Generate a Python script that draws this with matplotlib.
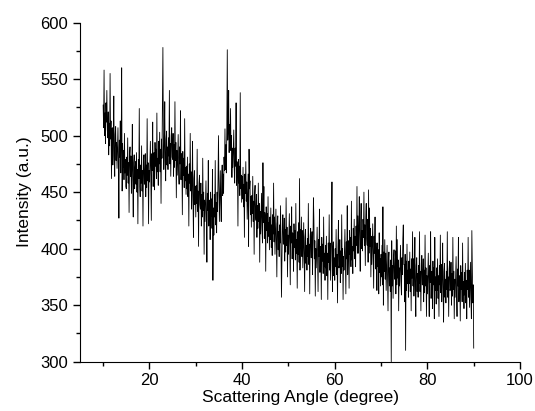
import numpy as np
import matplotlib
matplotlib.use("Agg")
import matplotlib.pyplot as plt
from matplotlib.ticker import MultipleLocator

plt.rcParams['font.family'] = ['Liberation Sans', 'DejaVu Sans']

# scattering angle, 10 to 90 degree in 0.1 steps
angle_start = 10.0
angle_step = 0.1

# intensity, one row per degree (10 values each)
intensity = [
    527, 507, 558, 500, 520, 493, 529, 512, 540, 505,   # 10
    498, 521, 483, 511, 491, 555, 497, 513, 462, 506,
    507, 474, 496, 535, 482, 464, 501, 508, 478, 494,
    471, 489, 507, 475, 427, 496, 481, 513, 467, 490,
    560, 451, 493, 472, 487, 461, 502, 467, 479, 455,
    453, 481, 465, 498, 458, 476, 432, 483, 490, 464,   # 15
    482, 449, 471, 510, 457, 428, 476, 483, 453, 469,
    477, 457, 485, 450, 470, 422, 479, 462, 524, 455,
    446, 474, 458, 491, 451, 469, 420, 476, 483, 457,
    461, 484, 446, 474, 454, 515, 460, 476, 422, 469,
    459, 477, 495, 463, 425, 484, 469, 512, 455, 478,   # 20
    485, 452, 494, 473, 488, 462, 520, 468, 480, 456,
    495, 475, 503, 468, 488, 440, 497, 480, 525, 578,
    503, 470, 492, 530, 478, 460, 497, 504, 474, 490,
    470, 498, 482, 540, 475, 493, 464, 500, 507, 481,
    479, 502, 464, 492, 472, 530, 478, 494, 445, 487,   # 25
    465, 483, 501, 469, 457, 490, 475, 522, 461, 484,
    477, 430, 486, 465, 480, 454, 515, 460, 472, 448,
    473, 453, 481, 446, 466, 420, 475, 458, 502, 451,
    468, 435, 457, 495, 443, 410, 462, 469, 439, 455,
    428, 456, 440, 488, 433, 451, 402, 458, 465, 439,   # 30
    435, 458, 420, 448, 428, 480, 434, 450, 395, 443,
    424, 442, 460, 428, 388, 449, 434, 478, 420, 443,
    441, 408, 450, 429, 444, 418, 470, 372, 436, 412,
    448, 428, 478, 421, 441, 414, 450, 433, 461, 500,
    455, 424, 449, 469, 440, 424, 464, 474, 447, 466,   # 35
    449, 481, 469, 506, 470, 492, 467, 507, 576, 496,
    505, 540, 485, 510, 487, 524, 487, 500, 463, 489,
    472, 488, 505, 471, 458, 489, 473, 529, 456, 477,
    470, 420, 479, 458, 473, 447, 538, 453, 465, 441,
    464, 444, 472, 437, 457, 410, 466, 449, 477, 442,   # 40
    459, 426, 448, 466, 402, 488, 453, 460, 430, 446,
    419, 447, 431, 464, 424, 442, 395, 449, 456, 430,
    425, 448, 410, 438, 418, 458, 424, 440, 388, 433,
    413, 431, 449, 417, 405, 476, 423, 455, 409, 432,
    428, 380, 437, 416, 431, 405, 446, 411, 423, 399,   # 45
    428, 408, 436, 401, 421, 394, 430, 413, 458, 406,
    428, 395, 417, 435, 403, 375, 422, 429, 399, 415,
    393, 421, 405, 438, 398, 357, 387, 423, 430, 404,
    404, 427, 389, 417, 397, 445, 403, 419, 375, 412,
    395, 413, 431, 399, 368, 420, 405, 437, 391, 414,   # 50
    413, 380, 422, 401, 416, 390, 440, 396, 408, 365,
    415, 395, 423, 388, 462, 381, 417, 400, 428, 393,
    416, 383, 405, 423, 391, 362, 410, 417, 387, 403,
    381, 409, 393, 440, 386, 404, 360, 411, 418, 392,
    392, 415, 377, 405, 445, 425, 391, 407, 358, 400,   # 55
    383, 401, 419, 387, 362, 408, 393, 435, 379, 402,
    401, 355, 410, 389, 404, 378, 428, 384, 396, 372,
    403, 383, 411, 376, 396, 355, 405, 388, 430, 381,
    405, 372, 394, 412, 459, 362, 399, 406, 376, 392,
    372, 400, 384, 417, 377, 395, 352, 402, 425, 383,   # 60
    385, 408, 370, 398, 378, 430, 384, 400, 355, 393,
    381, 399, 417, 385, 360, 406, 391, 438, 377, 400,
    407, 365, 416, 395, 410, 384, 442, 390, 402, 378,
    418, 398, 426, 391, 411, 384, 420, 403, 455, 396,
    429, 396, 418, 446, 404, 380, 423, 440, 400, 416,   # 65
    398, 426, 410, 450, 403, 421, 385, 428, 440, 409,
    403, 426, 388, 452, 396, 436, 402, 418, 375, 411,
    386, 404, 422, 390, 365, 411, 396, 428, 382, 405,
    396, 363, 405, 384, 399, 360, 414, 379, 391, 367,
    395, 375, 403, 368, 437, 350, 397, 380, 408, 373,   # 70
    396, 363, 385, 403, 371, 345, 390, 397, 367, 383,
    362, 390, 300, 407, 367, 385, 356, 392, 399, 373,
    375, 398, 360, 420, 368, 408, 374, 390, 345, 383,
    367, 385, 403, 371, 359, 392, 377, 409, 421, 386,
    386, 353, 395, 310, 389, 363, 404, 369, 381, 357,   # 75
    389, 369, 397, 362, 382, 345, 391, 374, 415, 367,
    391, 358, 380, 410, 366, 340, 385, 392, 362, 378,
    357, 385, 369, 415, 362, 380, 345, 387, 394, 368,
    368, 391, 353, 381, 361, 412, 367, 383, 340, 376,
    360, 378, 396, 364, 340, 385, 370, 415, 356, 379,   # 80
    380, 347, 389, 368, 383, 338, 410, 363, 375, 351,
    383, 363, 391, 356, 376, 340, 385, 368, 412, 361,
    386, 353, 375, 405, 361, 335, 380, 387, 357, 373,
    352, 380, 364, 415, 357, 375, 340, 382, 389, 363,
    365, 388, 350, 378, 358, 410, 364, 380, 338, 373,   # 85
    357, 375, 393, 361, 340, 382, 367, 410, 353, 376,
    376, 336, 385, 364, 379, 353, 405, 359, 371, 347,
    379, 359, 387, 352, 372, 338, 381, 364, 410, 357,
    381, 348, 370, 388, 356, 338, 416, 382, 352, 368,
    312,                                                 # 90
]
angle = angle_start + angle_step * np.arange(len(intensity))

fig = plt.figure(figsize=(5.35, 4.11), dpi=100)
ax = fig.add_axes([0.1495, 0.12, 0.8225, 0.825])

ax.plot(angle, intensity, color='black', lw=0.6)

ax.set_xlim(5, 100)
ax.set_ylim(300, 600)
ax.xaxis.set_major_locator(MultipleLocator(20))
ax.xaxis.set_minor_locator(MultipleLocator(10))
ax.yaxis.set_major_locator(MultipleLocator(50))
ax.yaxis.set_minor_locator(MultipleLocator(25))
ax.tick_params(which='major', direction='out', length=5, width=1, labelsize=12)
ax.tick_params(which='minor', direction='out', length=3, width=1)
ax.spines['top'].set_visible(False)
ax.spines['right'].set_visible(False)

ax.set_xlabel('Scattering Angle (degree)', fontsize=12.5, labelpad=1)
ax.set_ylabel('Intensity (a.u.)', fontsize=12.5, labelpad=6)

fig.savefig('out.png', dpi=100)
